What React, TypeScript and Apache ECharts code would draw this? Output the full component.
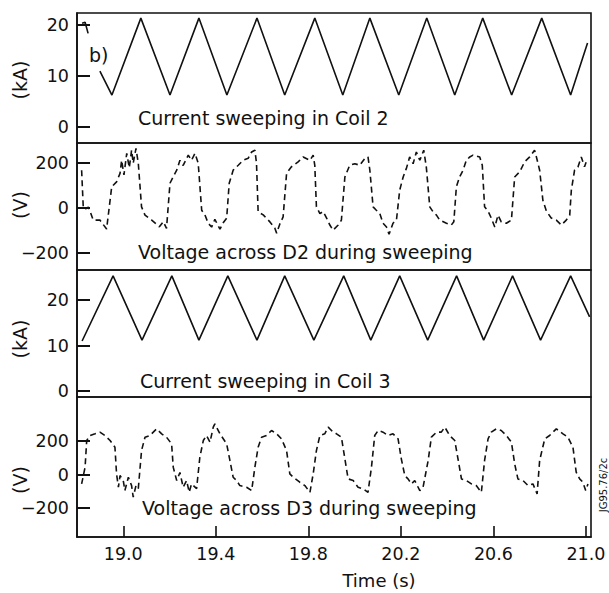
import React, { useEffect, useRef } from "react";
import * as echarts from "echarts";

// ---- Data ----
const xTicks = [19.0, 19.4, 19.8, 20.2, 20.6, 21.0];
const currentTicks = [0, 10, 20];
const voltageTicks = [-200, 0, 200];

const coil2PreTime = [18.822, 18.835, 18.848];
const coil2PreCurrent = [20.4, 20.6, 18.4];

const coil2Time = [18.899, 18.951, 19.076, 19.202, 19.327, 19.448, 19.578, 19.698, 19.828, 19.949, 20.066, 20.191, 20.312, 20.433, 20.554, 20.679, 20.809, 20.934, 21.007];
const coil2Current = [11.0, 6.3, 21.4, 6.3, 21.4, 6.3, 21.4, 6.3, 21.4, 6.3, 21.4, 6.3, 21.4, 6.3, 21.4, 6.3, 21.4, 6.3, 16.5];

const coil3Time = [18.822, 18.956, 19.081, 19.21, 19.327, 19.452, 19.578, 19.698, 19.824, 19.953, 20.07, 20.195, 20.316, 20.441, 20.558, 20.683, 20.804, 20.934, 21.016];
const coil3Current = [11.0, 25.3, 11.2, 25.3, 11.2, 25.3, 11.2, 25.3, 11.2, 25.3, 11.2, 25.3, 11.2, 25.3, 11.2, 25.3, 11.2, 25.3, 16.3];

const d2Time = [
  18.82, 18.827, 18.835, 18.849, 18.856, 18.87, 18.899, 18.928, 18.95, 18.971, 18.986, 18.993, 19.003, 19.015, 19.026, 19.036, 19.043, 19.055, 19.065,
  19.079, 19.094, 19.123, 19.156, 19.173, 19.187, 19.202, 19.216, 19.231, 19.245, 19.259, 19.281, 19.295, 19.31, 19.324,
  19.339, 19.353, 19.367, 19.382, 19.396, 19.418, 19.432, 19.447, 19.458, 19.475, 19.497, 19.518, 19.54, 19.555, 19.569, 19.576,
  19.583, 19.605, 19.634, 19.655, 19.663, 19.677, 19.691, 19.706, 19.727, 19.756, 19.778, 19.807, 19.821, 19.828,
  19.835, 19.85, 19.864, 19.879, 19.893, 19.907, 19.929, 19.943, 19.958, 19.979, 20.001, 20.022, 20.044, 20.058, 20.066,
  20.08, 20.094, 20.109, 20.123, 20.138, 20.149, 20.166, 20.181, 20.195, 20.21, 20.224, 20.238, 20.253, 20.267, 20.282, 20.299, 20.31,
  20.325, 20.339, 20.354, 20.368, 20.397, 20.418, 20.429, 20.44, 20.454, 20.469, 20.483, 20.498, 20.512, 20.541, 20.552,
  20.562, 20.577, 20.591, 20.606, 20.62, 20.634, 20.656, 20.678, 20.692, 20.714, 20.735, 20.757, 20.778, 20.786, 20.8,
  20.814, 20.829, 20.85, 20.872, 20.894, 20.915, 20.93, 20.937, 20.951, 20.966, 20.98, 20.994, 21.004,
];
const d2Voltage = [
  169, 6, -5, 5, -12, -53, -53, -93, 95, 117, 155, 213, 148, 244, 180, 258, 200, 266, 200,
  6, -31, -53, -83, -60, -90, 111, 140, 169, 213, 190, 236, 213, 244, 200,
  -9, -30, -67, -84, -50, -93, -65, -44, 111, 169, 191, 213, 222, 250, 258, 200,
  -16, -30, -61, -88, -111, -70, -39, 155, 184, 206, 228, 213, 236, 191,
  6, -24, -15, -44, -75, -98, -75, -53, 139, 191, 198, 191, 221, 228, 169,
  6, -9, -24, -67, -84, -116, -67, -53, 80, 139, 177, 228, 198, 250, 213, 258, 184,
  6, -16, -31, -53, -67, -75, -60, 95, 139, 169, 213, 228, 236, 228, 191,
  6, -13, -44, -84, -31, -61, -67, -53, 139, 162, 206, 228, 258, 228, 169,
  35, -13, -44, -53, -75, -53, -31, 80, 169, 184, 228, 184, 213,
];

const d3Time = [
  18.82, 18.835, 18.842, 18.856, 18.878, 18.899, 18.921, 18.943, 18.964,
  18.971, 18.979, 18.986, 19.0, 19.007, 19.022, 19.036, 19.043, 19.055, 19.065,
  19.079, 19.094, 19.115, 19.144, 19.166, 19.187, 19.209,
  19.216, 19.231, 19.245, 19.259, 19.274, 19.285, 19.295, 19.317,
  19.331, 19.346, 19.36, 19.375, 19.389, 19.396, 19.418, 19.447,
  19.461, 19.475, 19.49, 19.504, 19.533, 19.555,
  19.569, 19.583, 19.598, 19.619, 19.641, 19.663, 19.684, 19.706,
  19.72, 19.735, 19.763, 19.785, 19.807,
  19.821, 19.835, 19.85, 19.871, 19.886, 19.9, 19.922, 19.943,
  19.958, 19.972, 19.994, 20.015, 20.037, 20.058,
  20.073, 20.087, 20.102, 20.123, 20.145, 20.166, 20.188,
  20.202, 20.217, 20.231, 20.246, 20.26, 20.282, 20.296,
  20.318, 20.332, 20.354, 20.375, 20.39, 20.411, 20.433,
  20.447, 20.462, 20.483, 20.505, 20.526, 20.548,
  20.562, 20.577, 20.591, 20.613, 20.634, 20.656, 20.678,
  20.692, 20.706, 20.728, 20.75, 20.771, 20.789,
  20.8, 20.822, 20.843, 20.872, 20.901, 20.922, 20.944,
  20.958, 20.973, 20.987, 20.999, 21.009,
];
const d3Voltage = [
  -56, 44, 203, 233, 243, 253, 233, 203, 163,
  4, -76, -6, -36, -96, -16, -66, -135, -66, -84,
  143, 223, 233, 273, 243, 223, 183,
  44, -36, 12, -76, -36, -106, -56, -84,
  103, 203, 233, 193, 283, 302, 243, 183,
  84, -16, -36, -66, -76, -96,
  44, 163, 223, 233, 263, 243, 213, 143,
  4, -16, -46, -66, -106,
  4, 143, 233, 243, 283, 263, 243, 223,
  94, -26, -36, -76, -86, -106,
  44, 233, 263, 253, 233, 243, 213,
  94, -6, -26, -56, -36, -96, -76,
  84, 223, 253, 253, 283, 233, 203,
  94, -26, -36, -56, -66, -106,
  84, 213, 253, 273, 263, 233, 193,
  64, -26, -36, -66, -56, -116,
  84, 213, 233, 273, 243, 223, 163,
  14, -26, -46, -96, -56,
];

// ---- helpers ----
const zip = (t: number[], v: number[]) => t.map((x, i) => [x, v[i]]);
const FONT = "DejaVu Sans";
const INK = "#111";

export default function App() {
  const ref = useRef<HTMLDivElement>(null);

  useEffect(() => {
    if (!ref.current) return;
    const chart = echarts.init(ref.current, undefined, { renderer: "svg" });

    const grids = [
      { left: 77, right: 18, top: 13, height: 130 },
      { left: 77, right: 18, top: 143, height: 127 },
      { left: 77, right: 18, top: 270, height: 127 },
      { left: 77, right: 18, top: 397, height: 140 },
    ].map((g) => ({ ...g, show: true, borderColor: INK, borderWidth: 1.6, backgroundColor: "transparent" }));

    const yRanges = [
      { min: -3.1, max: 22.4, ticks: currentTicks },
      { min: -275, max: 290, ticks: voltageTicks },
      { min: -1.3, max: 26.6, ticks: currentTicks },
      { min: -373, max: 463, ticks: voltageTicks },
    ];

    const xAxis = grids.map((_, i) => ({
      type: "value",
      gridIndex: i,
      position: "bottom",
      min: 18.8,
      max: 21.022,
      show: i === 3,
      splitLine: { show: false },
      axisLine: { show: true, onZero: false, lineStyle: { color: INK, width: 1.6 } },
      axisTick: {
        show: i === 3,
        inside: true,
        length: 11,
        customValues: xTicks,
        lineStyle: { color: INK, width: 1.6 },
      },
      axisLabel: {
        show: i === 3,
        customValues: xTicks,
        margin: 8,
        color: INK,
        fontFamily: FONT,
        fontSize: 17.5,
        formatter: (v: number) => v.toFixed(1),
      },
    }));

    const yAxis = yRanges.map((r, i) => ({
      type: "value",
      gridIndex: i,
      position: "left",
      min: r.min,
      max: r.max,
      splitLine: { show: false },
      axisLine: { show: true, onZero: false, lineStyle: { color: INK, width: 1.6 } },
      axisTick: {
        show: true,
        inside: true,
        length: 13,
        customValues: r.ticks,
        lineStyle: { color: INK, width: 2 },
      },
      axisLabel: {
        customValues: r.ticks,
        margin: 8,
        color: INK,
        fontFamily: FONT,
        fontSize: 17.5,
        formatter: (v: number) => (v < 0 ? "\u2212" + Math.abs(v) : String(v)),
      },
    }));

    const solid = { color: INK, width: 1.6 };
    const dashed = { color: INK, width: 1.6, type: [6, 4] as any };

    const series = [
      { name: "Coil 2 pre", data: zip(coil2PreTime, coil2PreCurrent), idx: 0, ls: solid },
      { name: "Coil 2 current", data: zip(coil2Time, coil2Current), idx: 0, ls: solid },
      { name: "D2 voltage", data: zip(d2Time, d2Voltage), idx: 1, ls: dashed },
      { name: "Coil 3 current", data: zip(coil3Time, coil3Current), idx: 2, ls: solid },
      { name: "D3 voltage", data: zip(d3Time, d3Voltage), idx: 3, ls: dashed },
    ].map((s) => ({
      type: "line",
      name: s.name,
      xAxisIndex: s.idx,
      yAxisIndex: s.idx,
      data: s.data,
      showSymbol: false,
      symbol: "none",
      lineStyle: s.ls,
      silent: true,
    }));

    const txt = (text: string, x: number, y: number, size: number, opts: any = {}) => ({
      type: "text",
      x,
      y,
      rotation: opts.rotation || 0,
      silent: true,
      style: {
        text,
        fill: INK,
        font: `${size}px "${FONT}"`,
        textAlign: opts.align || "left",
        textVerticalAlign: "middle",
      },
    });

    const graphic = [
      txt("b)", 89, 55, 19),
      txt("Current sweeping in Coil 2", 138, 118, 19),
      txt("Voltage across D2 during sweeping", 138, 252, 19),
      txt("Current sweeping in Coil 3", 140, 381, 19),
      txt("Voltage across D3 during sweeping", 142, 508, 19),
      txt("(kA)", 20, 80, 19, { rotation: Math.PI / 2, align: "center" }),
      txt("(V)", 20, 205, 19, { rotation: Math.PI / 2, align: "center" }),
      txt("(kA)", 20, 339, 19, { rotation: Math.PI / 2, align: "center" }),
      txt("(V)", 20, 480, 19, { rotation: Math.PI / 2, align: "center" }),
      txt("Time (s)", 379, 580, 18, { align: "center" }),
      txt("JG95.76/2c", 603, 485, 10, { rotation: Math.PI / 2, align: "center" }),
    ];

    chart.setOption({
      animation: false,
      backgroundColor: "#fff",
      grid: grids,
      xAxis,
      yAxis,
      series,
      graphic,
    } as any);

    return () => chart.dispose();
  }, []);

  return (
    <div
      ref={ref}
      style={{ position: "fixed", left: 0, top: 0, width: 609, height: 593 }}
    />
  );
}
